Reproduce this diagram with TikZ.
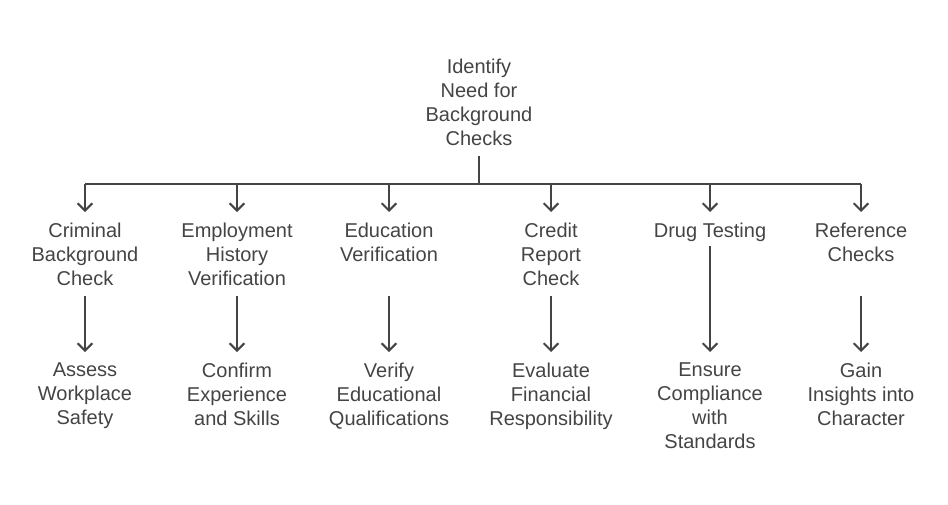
\documentclass[tikz,border=0pt]{standalone}
\usepackage{fontspec}
\setmainfont{Liberation Sans}
\usetikzlibrary{arrows.meta}
\definecolor{ink}{HTML}{444444}
\tikzset{
  lbl/.style={text=ink, align=center, inner sep=0pt, outer sep=8pt, anchor=north,
    font=\fontsize{15pt}{18pt}\selectfont},
  link/.style={draw=ink, line width=1.5pt},
  arr/.style={link, -{Straight Barb[length=5.5pt,width=11pt,line width=1.5pt]}}
}
\begin{document}
\begin{tikzpicture}[x=0.75pt,y=-0.75pt]
\useasboundingbox (0,0) rectangle (948,504);
\node[lbl] (top) at (479,48) {Identify\\Need for\\Background\\Checks};
\node[lbl] (c1) at (85,212) {Criminal\\Background\\Check};
\node[lbl] (c2) at (237,212) {Employment\\History\\Verification};
\node[lbl] (c3) at (389,212) {Education\\Verification};
\node[lbl] (c4) at (551,212) {Credit\\Report\\Check};
\node[lbl] (c5) at (710,212) {Drug Testing};
\node[lbl] (c6) at (861,212) {Reference\\Checks};
\node[lbl] (d1) at (85,352) {Assess\\Workplace\\Safety};
\node[lbl] (d2) at (237,352) {Confirm\\Experience\\and Skills};
\node[lbl] (d3) at (389,352) {Verify\\Educational\\Qualifications};
\node[lbl] (d4) at (551,352) {Evaluate\\Financial\\Responsibility};
\node[lbl] (d5) at (710,352) {Ensure\\Compliance\\with\\Standards};
\node[lbl] (d6) at (861,352) {Gain\\Insights into\\Character};
\coordinate (bar) at (479,184);
\draw[link] (top.south) -- (top.south |- bar);
\draw[link] (c1.north |- bar) -- (c6.north |- bar);
\foreach \i in {1,...,6} {
  \draw[arr] (c\i.north |- bar) -- (c\i.north);
}
\coordinate (s3) at (c3.south |- c1.south);
\coordinate (s6) at (c6.south |- c1.south);
\draw[arr] (c1.south) -- (d1.north);
\draw[arr] (c2.south) -- (d2.north);
\draw[arr] (s3) -- (d3.north);
\draw[arr] (c4.south) -- (d4.north);
\draw[arr, shorten <=7pt] (c5.base) -- (d5.north);
\draw[arr] (s6) -- (d6.north);
\end{tikzpicture}
\end{document}
